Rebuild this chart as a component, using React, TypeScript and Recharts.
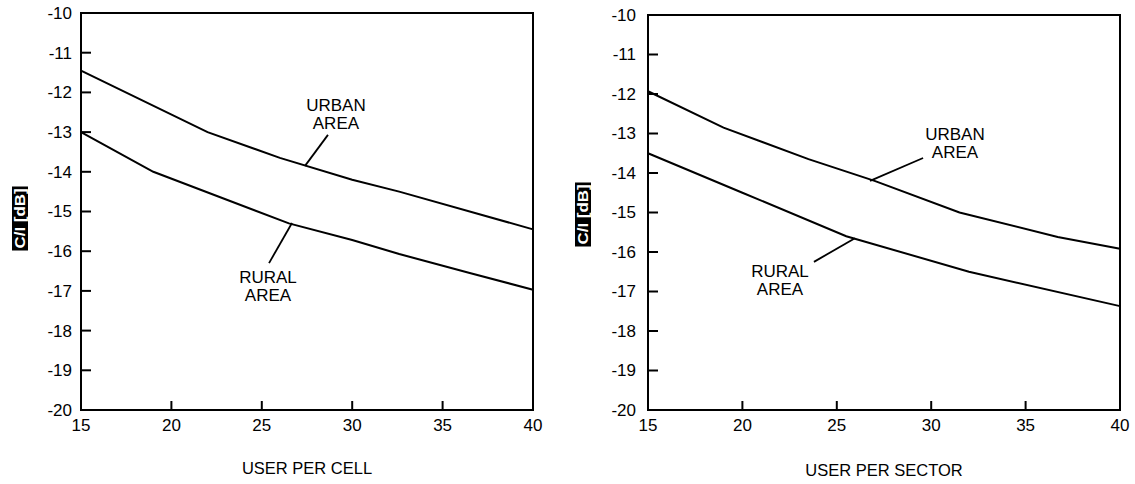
import React from "react";
import {
  LineChart,
  Line,
  XAxis,
  YAxis,
  ReferenceArea,
  ReferenceLine,
  ReferenceDot,
} from "recharts";

// tick labels
const xTicks = [15, 20, 25, 30, 35, 40];
const yTicks = [-20, -19, -18, -17, -16, -15, -14, -13, -12, -11, -10];

// left panel: users per cell
const cellUrbanX = [15, 22, 26, 30, 32.6, 40];
const cellUrbanY = [-11.45, -13.0, -13.65, -14.2, -14.5, -15.45];
const cellRuralX = [15, 19, 26.5, 30, 32.6, 36.5, 40];
const cellRuralY = [-13.0, -14.0, -15.3, -15.72, -16.07, -16.55, -16.97];

// right panel: users per sector
const sectorUrbanX = [15, 19, 23.5, 27, 31.5, 36.7, 40];
const sectorUrbanY = [-11.93, -12.85, -13.65, -14.2, -15.0, -15.62, -15.92];
const sectorRuralX = [15, 20, 25.5, 32, 40];
const sectorRuralY = [-13.5, -14.5, -15.6, -16.5, -17.37];

// annotations: leader line (curve point -> free end) and label centre
const cellUrbanNote = { seg: [[27.39, -13.85], [28.66, -13.07]], at: [29.1, -12.54] };
const cellRuralNote = { seg: [[26.67, -15.29], [25.4, -16.3]], at: [25.34, -16.88] };
const sectorUrbanNote = { seg: [[26.76, -14.2], [29.57, -13.62]], at: [31.26, -13.24] };
const sectorRuralNote = { seg: [[25.96, -15.65], [23.79, -16.25]], at: [21.99, -16.71] };

const toRows = (xs: number[], ys: number[]) => xs.map((x, i) => ({ x, y: ys[i] }));

const FONT = '"Liberation Sans", Arial, sans-serif';

const YTick = (props: any) => {
  const { x, y, payload, gap } = props;
  const edge = x + gap;
  return (
    <g>
      <line x1={edge} x2={edge + 10} y1={y} y2={y} stroke="#000" strokeWidth={2} />
      <text x={x} y={y} dy="0.35em" textAnchor="end" fontSize={17} fill="#000" fontFamily={FONT}>
        {payload.value}
      </text>
    </g>
  );
};

const XTick = (props: any) => {
  const { x, y, payload, gap } = props;
  const edge = y - gap;
  return (
    <g>
      <line x1={x} x2={x} y1={edge} y2={edge - 9} stroke="#000" strokeWidth={2} />
      <text x={x} y={y} dy="0.35em" textAnchor="middle" fontSize={17} fill="#000" fontFamily={FONT}>
        {payload.value}
      </text>
    </g>
  );
};

const YTitle = (props: any) => {
  const { viewBox, dx, dy } = props;
  const cx = viewBox.x + dx;
  const cy = viewBox.y + viewBox.height / 2 + dy;
  return (
    <g transform={`rotate(-90, ${cx}, ${cy})`}>
      <rect x={cx - 32} y={cy - 8} width={64} height={16} fill="#000" />
      <text
        x={cx}
        y={cy}
        dy="0.36em"
        textAnchor="middle"
        fill="#fff"
        fontSize={14}
        fontWeight="bold"
        fontFamily={FONT}
        textLength={60}
        lengthAdjust="spacingAndGlyphs"
      >
        C/I [dB]
      </text>
    </g>
  );
};

const NoteText = (props: any) => {
  const { viewBox, lines } = props;
  const cx = viewBox.x + viewBox.width / 2;
  const cy = viewBox.y + viewBox.height / 2;
  return (
    <text textAnchor="middle" fontSize={17} fill="#000" fontFamily={FONT}>
      {lines.map((t: string, i: number) => (
        <tspan key={t} x={cx} y={cy + (i - (lines.length - 1) / 2) * 18} dy="0.35em">
          {t}
        </tspan>
      ))}
    </text>
  );
};

type Note = { seg: number[][]; at: number[] };

function Panel(props: {
  width: number;
  margin: { top: number; right: number; bottom: number; left: number };
  yAxisWidth: number;
  yGap: number;
  titleDx: number;
  titleDy: number;
  xTitle: string;
  xTitleOffset: number;
  urban: { x: number; y: number }[];
  rural: { x: number; y: number }[];
  urbanNote: Note;
  ruralNote: Note;
}) {
  const notes: [Note, string[]][] = [
    [props.urbanNote, ["URBAN", "AREA"]],
    [props.ruralNote, ["RURAL", "AREA"]],
  ];
  return (
    <LineChart width={props.width} height={484} margin={props.margin}>
      <XAxis
        dataKey="x"
        type="number"
        domain={[15, 40]}
        ticks={xTicks}
        axisLine={false}
        tickLine={false}
        tickSize={0}
        tickMargin={15}
        height={74}
        interval={0}
        tick={(p: any) => <XTick {...p} gap={15} />}
        label={{
          value: props.xTitle,
          position: "insideBottom",
          offset: props.xTitleOffset,
          fill: "#000",
          fontSize: 16.5,
          fontFamily: FONT,
        }}
      />
      <YAxis
        type="number"
        domain={[-20, -10]}
        ticks={yTicks}
        axisLine={false}
        tickLine={false}
        tickSize={0}
        tickMargin={props.yGap}
        width={props.yAxisWidth}
        interval={0}
        tick={(p: any) => <YTick {...p} gap={props.yGap} />}
        label={{
          content: (p: any) => <YTitle {...p} dx={props.titleDx} dy={props.titleDy} />,
        }}
      />
      <ReferenceArea x1={15} x2={40} y1={-20} y2={-10} fill="none" stroke="#000" strokeWidth={2} />
      <Line
        data={props.urban}
        dataKey="y"
        type="linear"
        stroke="#000"
        strokeWidth={2}
        dot={false}
        isAnimationActive={false}
      />
      <Line
        data={props.rural}
        dataKey="y"
        type="linear"
        stroke="#000"
        strokeWidth={2}
        dot={false}
        isAnimationActive={false}
      />
      {notes.map(([n, lines], i) => (
        <ReferenceLine
          key={"l" + i}
          segment={[
            { x: n.seg[0][0], y: n.seg[0][1] },
            { x: n.seg[1][0], y: n.seg[1][1] },
          ]}
          stroke="#000"
          strokeWidth={1.8}
        />
      ))}
      {notes.map(([n, lines], i) => (
        <ReferenceDot
          key={"t" + i}
          x={n.at[0]}
          y={n.at[1]}
          r={0}
          fill="none"
          stroke="none"
          label={{ content: (p: any) => <NoteText {...p} lines={lines} /> }}
        />
      ))}
    </LineChart>
  );
}

export default function App() {
  return (
    <div
      style={{
        position: "absolute",
        left: 0,
        top: 0,
        width: 1135,
        height: 484,
        background: "#fff",
        fontFamily: FONT,
      }}
    >
      <div style={{ position: "absolute", left: 0, top: 0 }}>
        <Panel
          width={560}
          margin={{ top: 13, right: 27, bottom: 0, left: 0 }}
          yAxisWidth={81}
          yGap={9}
          titleDx={20}
          titleDy={7}
          xTitle="USER PER CELL"
          xTitleOffset={10}
          urban={toRows(cellUrbanX, cellUrbanY)}
          rural={toRows(cellRuralX, cellRuralY)}
          urbanNote={cellUrbanNote}
          ruralNote={cellRuralNote}
        />
      </div>
      <div style={{ position: "absolute", left: 560, top: 0 }}>
        <Panel
          width={575}
          margin={{ top: 15, right: 15, bottom: 0, left: 0 }}
          yAxisWidth={88}
          yGap={12}
          titleDx={23}
          titleDy={2}
          xTitle="USER PER SECTOR"
          xTitleOffset={8}
          urban={toRows(sectorUrbanX, sectorUrbanY)}
          rural={toRows(sectorRuralX, sectorRuralY)}
          urbanNote={sectorUrbanNote}
          ruralNote={sectorRuralNote}
        />
      </div>
    </div>
  );
}
